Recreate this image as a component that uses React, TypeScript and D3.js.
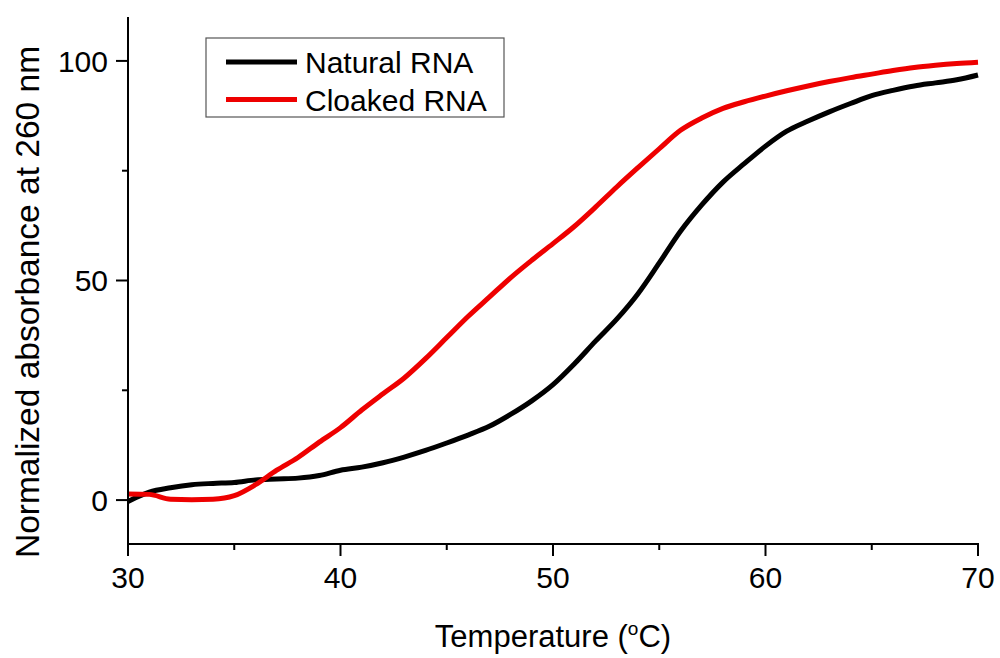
import React from 'react';
import * as d3 from 'd3';

// temperature (°C) grid used for both melting curves
const temps = [30, 31, 32, 33, 34, 35, 36, 37, 38, 39, 40, 41, 42, 43, 44, 45, 46, 47, 48, 49, 50,
  51, 52, 53, 54, 55, 56, 57, 58, 59, 60, 61, 62, 63, 64, 65, 66, 67, 68, 69, 70];

const natural = [-0.3, 1.8, 2.8, 3.5, 3.8, 4.0, 4.6, 4.8, 5.0, 5.6, 6.8, 7.5, 8.5, 9.8, 11.3, 13.0, 14.8, 16.8, 19.5, 22.6, 26.3,
  31.0, 36.2, 41.2, 47.0, 54.0, 61.2, 67.2, 72.4, 76.6, 80.6, 84.0, 86.3, 88.4, 90.3, 92.1, 93.3, 94.3, 95.0, 95.7, 96.8];

const cloaked = [1.4, 1.3, 0.2, 0.1, 0.2, 1.0, 3.5, 6.8, 9.7, 13.2, 16.5, 20.5, 24.2, 27.8, 32.2, 37.0, 41.8, 46.2, 50.6, 54.6, 58.4,
  62.3, 66.7, 71.3, 75.7, 80.0, 84.2, 87.0, 89.2, 90.7, 92.0, 93.2, 94.3, 95.3, 96.2, 97.0, 97.8, 98.5, 99.0, 99.4, 99.7];

const xTicks = [30, 40, 50, 60, 70];
const xMinor = [35, 45, 55, 65];
const yTicks = [0, 50, 100];
const yMinor = [25, 75];

const series = [
  { name: 'Natural RNA', color: '#000000', values: natural },
  { name: 'Cloaked RNA', color: '#ee0000', values: cloaked },
];

const W = 1000;
const H = 658;
const margin = { top: 17, right: 22, bottom: 114, left: 128 };
const font = '"Liberation Sans", Arial, sans-serif';

export default function App() {
  const x = d3.scaleLinear().domain([30, 70]).range([margin.left, W - margin.right]);
  const y = d3.scaleLinear().domain([-10, 110]).range([H - margin.bottom, margin.top]);

  const line = d3.line<number>()
    .x((_, i) => x(temps[i]))
    .y(d => y(d))
    .curve(d3.curveMonotoneX);

  const x0 = x.range()[0];
  const x1 = x.range()[1];
  const yBottom = y.range()[0];
  const yTop = y.range()[1];

  return (
    <svg width={W} height={H} style={{ position: 'absolute', left: 0, top: 0, background: '#fff' }} fontFamily={font}>
      {/* curves */}
      {series.map(s => (
        <path key={s.name} d={line(s.values) || ''} fill="none" stroke={s.color} strokeWidth={5}
          strokeLinejoin="round" strokeLinecap="butt" />
      ))}

      {/* axes */}
      <line x1={x0} x2={x0} y1={yTop} y2={yBottom} stroke="#000" strokeWidth={2} />
      <line x1={x0 - 1} x2={x1 + 1} y1={yBottom} y2={yBottom} stroke="#000" strokeWidth={2} />

      {xTicks.map(t => (
        <g key={'xt' + t}>
          <line x1={x(t)} x2={x(t)} y1={yBottom} y2={yBottom + 12} stroke="#000" strokeWidth={2} />
          <text x={x(t)} y={yBottom + 44} textAnchor="middle" fontSize={30}>{t}</text>
        </g>
      ))}
      {xMinor.map(t => (
        <line key={'xm' + t} x1={x(t)} x2={x(t)} y1={yBottom} y2={yBottom + 6} stroke="#000" strokeWidth={2} />
      ))}

      {yTicks.map(t => (
        <g key={'yt' + t}>
          <line x1={x0 - 12} x2={x0} y1={y(t)} y2={y(t)} stroke="#000" strokeWidth={2} />
          <text x={x0 - 20} y={y(t)} dy="0.36em" textAnchor="end" fontSize={30}>{t}</text>
        </g>
      ))}
      {yMinor.map(t => (
        <line key={'ym' + t} x1={x0 - 6} x2={x0} y1={y(t)} y2={y(t)} stroke="#000" strokeWidth={2} />
      ))}

      {/* axis titles */}
      <text x={553} y={647} textAnchor="middle" fontSize={31}>
        Temperature (<tspan dy={-12} fontSize={19}>o</tspan><tspan dy={12}>C)</tspan>
      </text>
      <text transform="translate(39,302) rotate(-90)" textAnchor="middle" fontSize={33.5}>
        Normalized absorbance at 260 nm
      </text>

      {/* legend */}
      <rect x={206} y={38} width={298} height={79} fill="#fff" stroke="#555" strokeWidth={1.2} />
      {series.map((s, i) => (
        <g key={'lg' + s.name}>
          <line x1={226} x2={297} y1={62 + i * 37.5} y2={62 + i * 37.5} stroke={s.color} strokeWidth={5} />
          <text x={305} y={73 + i * 37.5} fontSize={30}>{s.name}</text>
        </g>
      ))}
    </svg>
  );
}
